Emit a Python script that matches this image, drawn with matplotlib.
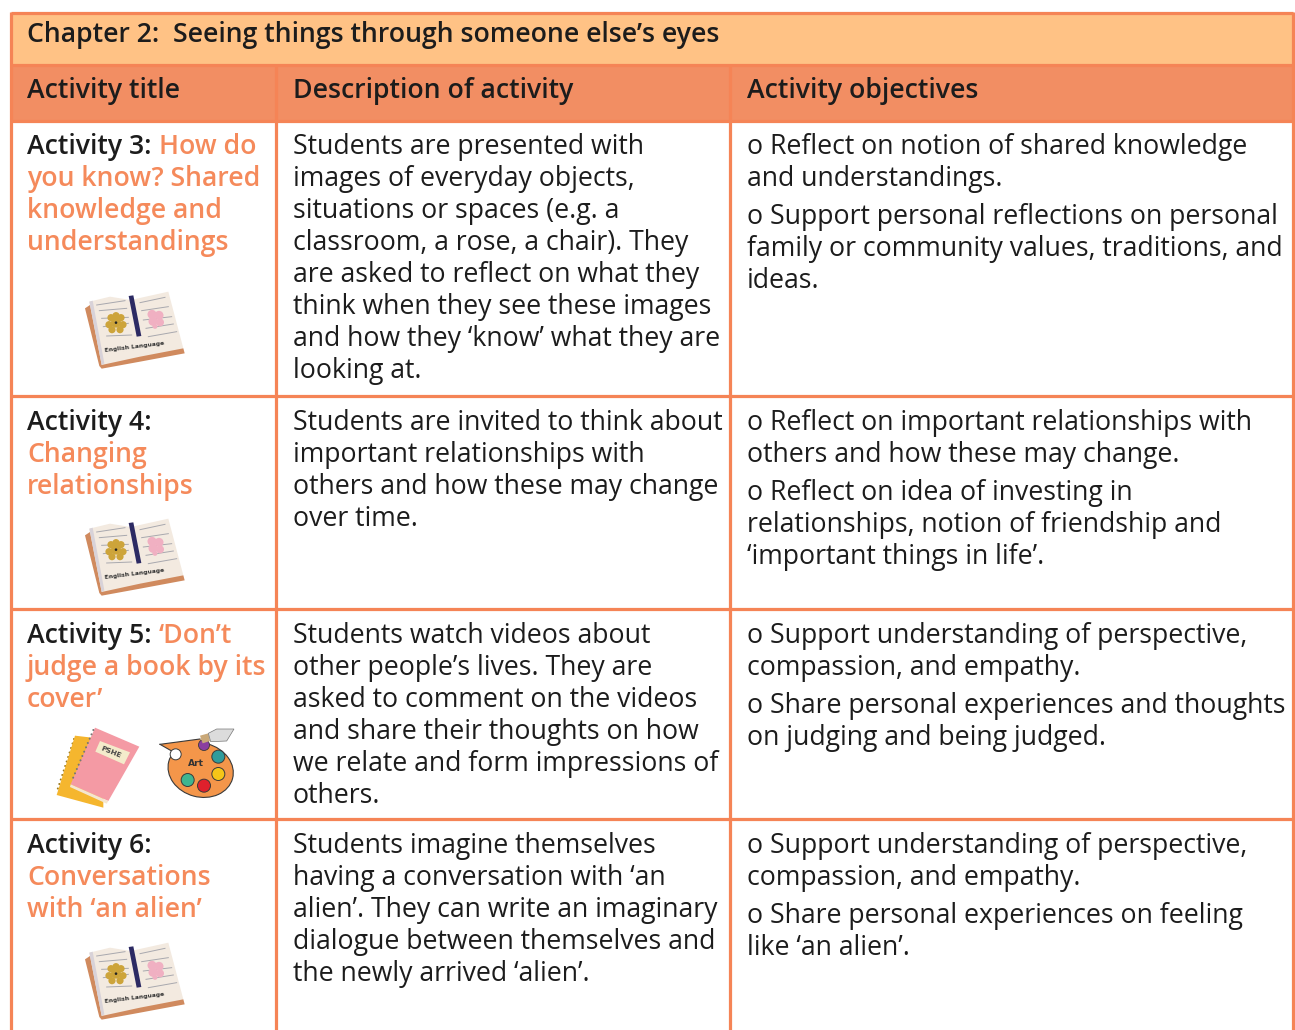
import matplotlib
matplotlib.use("Agg")
import matplotlib.pyplot as plt
from matplotlib.patches import Polygon, Circle, Rectangle, Ellipse

chapter_title = "Chapter 2:  Seeing things through someone else’s eyes"
headers = ["Activity title", "Description of activity", "Activity objectives"]

activity_labels = ["Activity 3:", "Activity 4:", "Activity 5:", "Activity 6:"]
activity_titles = [
    ["How do", "you know? Shared", "knowledge and", "understandings"],
    ["", "Changing", "relationships"],
    ["‘Don’t", "judge a book by its", "cover’"],
    ["", "Conversations", "with ‘an alien’"],
]
descriptions = [
    ["Students are presented with", "images of everyday objects,", "situations or spaces (e.g. a",
     "classroom, a rose, a chair). They", "are asked to reflect on what they",
     "think when they see these images", "and how they ‘know’ what they are", "looking at."],
    ["Students are invited to think about", "important relationships with",
     "others and how these may change", "over time."],
    ["Students watch videos about", "other people’s lives. They are", "asked to comment on the videos",
     "and share their thoughts on how", "we relate and form impressions of", "others."],
    ["Students imagine themselves", "having a conversation with ‘an", "alien’. They can write an imaginary",
     "dialogue between themselves and", "the newly arrived ‘alien’."],
]
objectives = [
    [["o Reflect on notion of shared knowledge", "and understandings."],
     ["o Support personal reflections on personal", "family or community values, traditions, and", "ideas."]],
    [["o Reflect on important relationships with", "others and how these may change."],
     ["o Reflect on idea of investing in", "relationships, notion of friendship and", "‘important things in life’."]],
    [["o Support understanding of perspective,", "compassion, and empathy."],
     ["o Share personal experiences and thoughts", "on judging and being judged."]],
    [["o Support understanding of perspective,", "compassion, and empathy."],
     ["o Share personal experiences on feeling", "like ‘an alien’."]],
]

W, H = 1295, 1030
FONT = "Open Sans"
BODY = 19.2
HEAD = 19.17
BORDER = "#F58456"
TITLE_BG = "#FFC285"
HEAD_BG = "#F28E63"
ORANGE = "#F58A5B"
INK = "#1C1C1C"
LEFT, RIGHT, TOP = 11, 1293, 13
COL1, COL2 = 276, 730
Y_TITLE_END, Y_HEAD_END = 65, 121
ROW_LINES = [396, 609, 819]
BASELINES = [154.4, 430.4, 643.4, 853.4]
LEAD, GAP = 32, 6
X1, X2, X3 = 27, 293, 747
LABEL_W = 133

fig = plt.figure(figsize=(W / 100, H / 100), dpi=100, facecolor="white")
ax = fig.add_axes([0, 0, 1, 1])
ax.set_xlim(0, W)
ax.set_ylim(H, 0)
ax.axis("off")

ax.add_patch(Rectangle((LEFT, TOP), RIGHT - LEFT, Y_TITLE_END - TOP, fc=TITLE_BG, ec="none", zorder=1))
ax.add_patch(Rectangle((LEFT, Y_TITLE_END), RIGHT - LEFT, Y_HEAD_END - Y_TITLE_END, fc=HEAD_BG, ec="none", zorder=1))

def line(x0, y0, x1, y1, lw=3.2):
    ax.plot([x0, x1], [y0, y1], color=BORDER, lw=lw * 0.72, solid_capstyle="butt", zorder=3)

line(LEFT, TOP - 1.5, LEFT, H)
line(RIGHT, TOP - 1.5, RIGHT, H)
line(LEFT, TOP, RIGHT, TOP)
line(LEFT, Y_TITLE_END, RIGHT, Y_TITLE_END)
line(LEFT, Y_HEAD_END, RIGHT, Y_HEAD_END)
for y in ROW_LINES:
    line(LEFT, y, RIGHT, y)
line(COL1, Y_TITLE_END, COL1, H)
line(COL2, Y_TITLE_END, COL2, H)

def txt(x, y, s, color=INK, weight="normal", size=BODY):
    ax.text(x, y, s, color=color, fontweight=weight, fontsize=size, family=FONT,
            va="baseline", ha="left", zorder=5)

txt(X1, 42, chapter_title, weight="semibold", size=HEAD)
for x, h in zip([X1, X2, X3], headers):
    txt(x, 98, h, weight="semibold", size=HEAD)

for base, label, parts in zip(BASELINES, activity_labels, activity_titles):
    txt(X1, base, label, weight="semibold", size=HEAD)
    for i, part in enumerate(parts):
        if part:
            x = X1 + (LABEL_W - 1 if i == 0 else 0)
            txt(x, base + LEAD * i, part, color=ORANGE, weight="semibold", size=HEAD)

for base, lines_ in zip(BASELINES, descriptions):
    for i, s in enumerate(lines_):
        txt(X2, base + LEAD * i, s)

for base, paras in zip(BASELINES, objectives):
    y = base
    for p in paras:
        for s in p:
            txt(X3, y, s)
            y += LEAD
        y += GAP

def book(dy):
    ox, oy = 40, 280 + dy
    def P(x, y):
        return (ox + x / 3, oy + y / 3)
    def poly(pts, c, z=6):
        ax.add_patch(Polygon([P(*p) for p in pts], closed=True, fc=c, ec="none", zorder=z))
    poly([(135, 85), (150, 75), (430, 205), (434, 220), (300, 245), (185, 266), (178, 258)], "#D08A5E")
    poly([(148, 65), (210, 50), (272, 60), (385, 35), (430, 205), (300, 230), (185, 255)], "#F3EAE0", 7)
    poly([(148, 65), (158, 62), (193, 250), (185, 255)], "#D8D2D8", 7)
    poly([(266, 48), (280, 46), (304, 168), (290, 170)], "#2C2A63", 8)
    for x0, y0, x1, y1 in [(170, 75, 255, 62), (178, 92, 260, 85), (185, 115, 265, 112), (190, 140, 265, 130),
                            (200, 168, 275, 165), (300, 68, 375, 52), (305, 92, 385, 80), (310, 120, 395, 110),
                            (318, 145, 400, 132), (325, 170, 410, 155)]:
        ax.plot([P(x0, y0)[0], P(x1, y1)[0]], [P(x0, y0)[1], P(x1, y1)[1]], color="#A8A8AE", lw=0.7, zorder=8)
    cx, cy = P(228, 128)
    ax.add_patch(Circle((cx, cy), 5, fc="#CDA43A", ec="none", zorder=9))
    for a, b in [(-5, -5), (5, -5), (-7, 2), (7, 2), (-4, 7), (4, 7), (0, -7)]:
        ax.add_patch(Circle((cx + a, cy + b), 3.6, fc="#CDA43A", ec="none", zorder=9))
    ax.add_patch(Circle((cx, cy), 1.3, fc="#222222", ec="none", zorder=10))
    px, py = P(345, 115)
    for a, b, r in [(-3, -4, 4.5), (4, -3, 4.5), (-2, 3, 4.5), (5, 4, 4), (0, 8, 2.5)]:
        ax.add_patch(Circle((px + a, py + b), r, fc="#F0B0C2", ec="none", zorder=9))
    tx, ty = P(283, 200)
    ax.text(tx, ty, "English Language", fontsize=4.3, fontweight="bold", family="DejaVu Sans", color="#333333",
            rotation=7, ha="center", va="center", rotation_mode="anchor", zorder=10)

for dy in [0, 227, 651]:
    book(dy)

def Q(x, y):
    return (40 + x / 3, 715 + y / 3)

def qpoly(pts, c, z=6, **kw):
    ax.add_patch(Polygon([Q(*p) for p in pts], closed=True, fc=c, ec=kw.get("ec", "none"), lw=kw.get("lw", 0), zorder=z))

qpoly([(105, 62), (190, 72), (190, 278), (50, 240)], "#F5B62E")
qpoly([(165, 38), (298, 95), (205, 258), (92, 208)], "#F49AA4", 7)
qpoly([(92, 208), (205, 258), (200, 266), (90, 216)], "#F4E6D0", 7)
qpoly([(180, 78), (270, 112), (252, 148), (166, 110)], "#F4EBCB", 8)
ax.text(*Q(212, 110), "PSHE", fontsize=5.2, fontweight="bold", family="DejaVu Sans", color="#444444",
        rotation=-22, ha="center", va="center", rotation_mode="anchor", zorder=9)
for i in range(12):
    x0, y0 = Q(160 - i * 5.5, 45 + i * 13)
    ax.add_patch(Circle((x0, y0), 1.0, fc="#777777", ec="none", zorder=9))
    x1, y1 = Q(102 - i * 4.4, 72 + i * 13.5)
    ax.add_patch(Circle((x1, y1), 1.0, fc="#9A7A20", ec="none", zorder=5.5))

# palette
ax.add_patch(Ellipse(Q(482, 165), 66, 54, angle=15, fc="#F4964A", ec="#3A3A3A", lw=0.8, zorder=6))
qpoly([(360, 88), (480, 72), (520, 100), (420, 150), (395, 108)], "#F4964A", 6.5)
ax.plot([Q(360, 88)[0], Q(480, 72)[0]], [Q(360, 88)[1], Q(480, 72)[1]], color="#3A3A3A", lw=0.8, zorder=6.6)
ax.plot([Q(360, 88)[0], Q(395, 108)[0]], [Q(360, 88)[1], Q(395, 108)[1]], color="#3A3A3A", lw=0.8, zorder=6.6)
ax.text(*Q(467, 145), "Art", fontsize=6.6, fontweight="bold", family="DejaVu Sans", color="#333333",
        ha="center", va="center", zorder=9)
for x, y, c, r in [(407, 118, "#FFFFFF", 5.5), (535, 125, "#2F9C9C", 6.5), (535, 177, "#F5C518", 6.5),
                   (492, 212, "#E0202C", 6.5), (443, 195, "#3FB58F", 6.5)]:
    ax.add_patch(Circle(Q(x, y), r, fc=c, ec="#3A3A3A", lw=0.7, zorder=8))
ax.add_patch(Circle(Q(492, 90), 5.5, fc="#8A3FA0", ec="#3A3A3A", lw=0.6, zorder=9))
qpoly([(480, 62), (505, 55), (510, 78), (488, 85)], "#C9A878", 9)
qpoly([(505, 55), (530, 42), (582, 42), (560, 78), (512, 80)], "#DCDCDC", 9, ec="#777777", lw=0.5)

fig.savefig("out.png", dpi=100, facecolor="white")
